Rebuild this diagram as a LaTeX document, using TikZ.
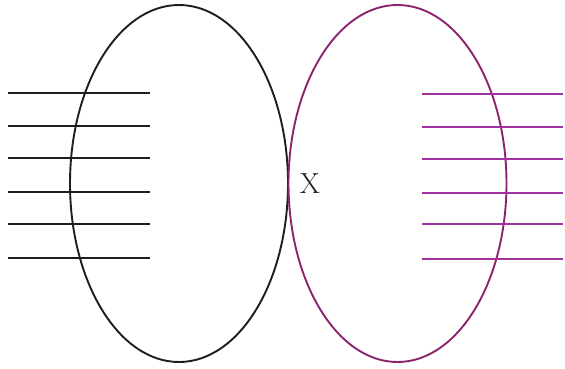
\documentclass[tikz,border=0pt]{standalone}
\usetikzlibrary{shapes.geometric}
\definecolor{loopblack}{RGB}{30,30,30}
\definecolor{looppurple}{RGB}{140,35,110}
\definecolor{linepurple}{RGB}{160,50,160}
\begin{document}
\begin{tikzpicture}[x=1pt,y=-1pt,
  loop/.style={ellipse,draw,line width=1.9pt,minimum width=218pt,minimum height=357pt,inner sep=0pt},
  field/.style={line width=2pt}]
\useasboundingbox (0,0) rectangle (565,368);
\node[loop,draw=loopblack] (L) at (179,183.5) {};
\node[loop,draw=looppurple] (R) at (397.5,183.5) {};
\foreach \y in {93,126,158,192,224,258}{
  \draw[field,loopblack] (8,\y) -- (150,\y);
}
\foreach \y in {94,127,159,193,224,259}{
  \draw[field,linepurple] (422,\y) -- (563,\y);
}
\node[font=\fontsize{29}{31}\selectfont,text=loopblack,inner sep=0pt] (X) at (310,184) {X};
\end{tikzpicture}
\end{document}
